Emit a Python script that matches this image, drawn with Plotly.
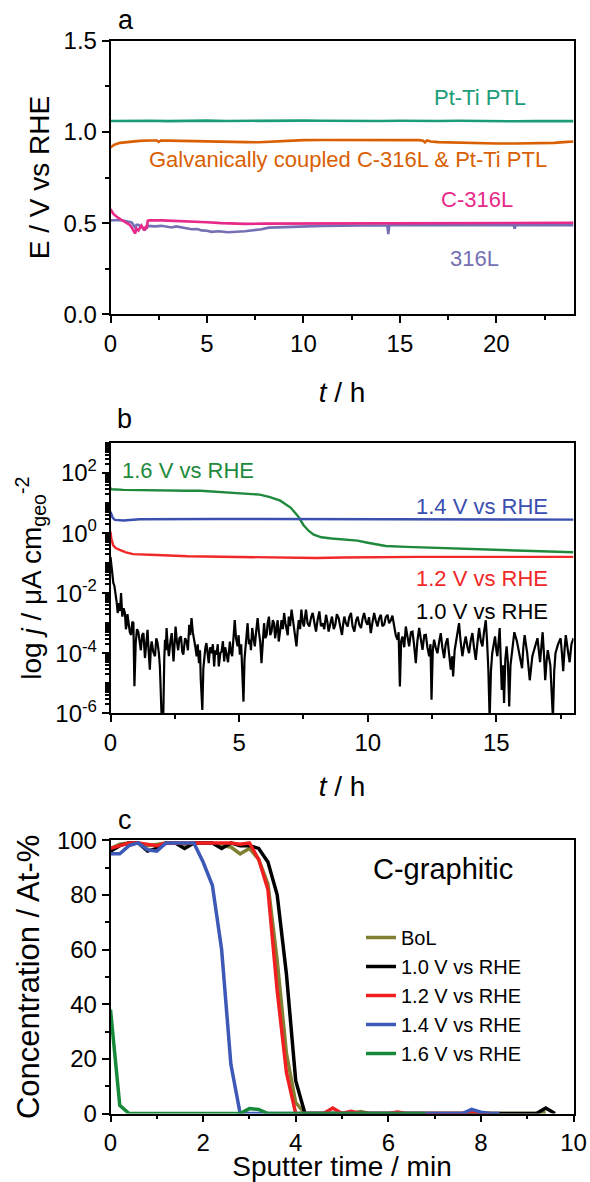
import plotly.graph_objects as go

FONT = "Liberation Sans, Arial, sans-serif"

# ---------------- Panel a : E / V vs RHE over t / h ----------------
a_pt_t = [0, 1, 2, 3, 4, 5, 6, 7, 8, 9, 10, 11, 12, 13, 14, 15, 16, 17, 18, 19, 20, 21, 22, 23, 24]
a_pt_v = [1.060, 1.062, 1.061, 1.059, 1.061, 1.062, 1.060, 1.061, 1.059, 1.060, 1.062, 1.061, 1.060,
          1.058, 1.060, 1.061, 1.059, 1.060, 1.061, 1.059, 1.060, 1.058, 1.059, 1.057, 1.059]

a_gal_t = [0, 0.2, 0.5, 1, 1.5, 2, 2.4, 2.5, 2.6, 3, 4, 5, 6, 7, 7.7, 8.5, 9, 10, 11, 12, 13, 14, 15, 16,
           16.2, 16.3, 16.4, 16.6, 17, 18, 19, 20, 21, 22, 23, 23.5, 24]
a_gal_v = [0.915, 0.930, 0.940, 0.947, 0.951, 0.953, 0.953, 0.945, 0.953, 0.952, 0.951, 0.949, 0.947,
           0.944, 0.943, 0.948, 0.952, 0.955, 0.956, 0.956, 0.957, 0.957, 0.956, 0.955, 0.952, 0.942,
           0.953, 0.947, 0.944, 0.940, 0.937, 0.936, 0.936, 0.937, 0.940, 0.944, 0.947]

a_c316_t = [0, 0.15, 0.4, 0.75, 1.0, 1.1, 1.2, 1.27, 1.35, 1.45, 1.6, 1.7, 1.75, 1.82, 1.88, 1.93, 2.0,
            2.65, 3.5, 4.4, 5.0, 5.75, 6.5, 7.0, 8, 10, 12, 14, 16, 18, 20, 22, 24]
a_c316_v = [0.577, 0.550, 0.528, 0.504, 0.490, 0.476, 0.460, 0.443, 0.470, 0.460, 0.487, 0.470, 0.460,
            0.478, 0.476, 0.513, 0.515, 0.515, 0.512, 0.509, 0.505, 0.500, 0.497, 0.496, 0.497, 0.498,
            0.499, 0.500, 0.500, 0.501, 0.501, 0.502, 0.502]

a_s316_t = [0, 0.58, 1.1, 1.2, 1.27, 1.35, 1.44, 1.6, 1.8, 1.96, 2.3, 2.65, 3.0, 3.17, 3.4, 3.7, 4.0,
            4.2, 4.5, 4.72, 5.0, 5.24, 5.6, 6.1, 6.45, 6.97, 7.4, 7.83, 8.2, 9.0, 9.56, 10.07, 11, 12,
            13, 14, 14.35, 14.4, 14.45, 15, 16, 17, 18, 19, 20, 20.9, 20.95, 21.0, 22, 23, 24]
a_s316_v = [0.516, 0.516, 0.504, 0.490, 0.476, 0.490, 0.490, 0.480, 0.466, 0.485, 0.482, 0.485, 0.478,
            0.476, 0.482, 0.474, 0.470, 0.466, 0.468, 0.460, 0.458, 0.452, 0.455, 0.450, 0.451, 0.455,
            0.461, 0.466, 0.475, 0.479, 0.481, 0.484, 0.485, 0.486, 0.487, 0.488, 0.488, 0.440, 0.488,
            0.488, 0.489, 0.489, 0.489, 0.489, 0.489, 0.489, 0.470, 0.489, 0.489, 0.489, 0.489]

# ---------------- Panel b : log j over t / h (values read as log10) ----------------
b16_t = [0, 0.05, 0.5, 1, 2, 3, 3.5, 4, 4.5, 5, 5.3, 5.8, 6.2, 6.6, 7.0, 7.3, 7.5, 7.7, 7.9, 8.2, 8.6,
         9.0, 9.6, 10.0, 10.7, 11.5, 12.5, 13.5, 14.5, 15.5, 16.5, 17.5, 18]
b16_log = [1.49, 1.46, 1.44, 1.43, 1.42, 1.41, 1.41, 1.38, 1.35, 1.33, 1.32, 1.28, 1.20, 1.08, 0.85,
           0.55, 0.27, 0.08, -0.05, -0.14, -0.18, -0.21, -0.25, -0.32, -0.43, -0.46, -0.49, -0.53,
           -0.56, -0.59, -0.61, -0.63, -0.64]

b14_t = [0, 0.03, 0.08, 0.17, 0.5, 1.14, 2, 4, 6, 8, 10, 12, 14, 16, 18]
b14_log = [0.71, 0.60, 0.52, 0.44, 0.42, 0.46, 0.47, 0.47, 0.47, 0.47, 0.47, 0.47, 0.47, 0.46, 0.45]

b12_t = [0, 0.03, 0.1, 0.2, 0.36, 0.6, 0.88, 1.3, 1.8, 3, 4.4, 6, 7, 8, 9, 10.8, 12, 14, 16, 18]
b12_log = [0.05, -0.17, -0.40, -0.50, -0.56, -0.64, -0.70, -0.72, -0.73, -0.77, -0.79, -0.81, -0.84,
           -0.83, -0.81, -0.79, -0.79, -0.79, -0.79, -0.79]

b10_t = [0, 0.05, 0.11, 0.15, 0.2, 0.24, 0.28, 0.33, 0.37, 0.41, 0.46, 0.51, 0.56, 0.6, 0.63, 0.66,
         0.69, 0.75, 0.8, 0.85, 0.89, 0.93, 0.98, 1.03, 1.08, 1.13, 1.18, 1.23, 1.28, 1.34, 1.39, 1.44,
         1.48, 1.53, 1.57, 1.6, 1.66, 1.73, 1.78, 1.83, 1.88, 1.92, 1.99, 2.05, 2.09, 2.12, 2.15, 2.18,
         2.22, 2.27, 2.33, 2.38, 2.42, 2.45, 2.49, 2.53, 2.58, 2.63, 2.68, 2.74, 2.79, 2.83, 2.9, 2.96,
         3.01, 3.06, 3.1, 3.15, 3.2, 3.26, 3.3, 3.35, 3.39, 3.44, 3.48, 3.51, 3.57, 3.61, 3.64, 3.69,
         3.73, 3.78, 3.82, 3.87, 3.93, 3.98, 4.03, 4.07, 4.12, 4.17, 4.21, 4.27, 4.32, 4.37, 4.42, 4.46,
         4.51, 4.57, 4.64, 4.68, 4.73, 4.78, 4.83, 4.88, 4.94, 4.98, 5.03, 5.08, 5.12, 5.17, 5.21, 5.25,
         5.29, 5.33, 5.38, 5.42, 5.46, 5.51, 5.56, 5.61, 5.66, 5.72, 5.77, 5.82, 5.87, 5.92, 5.97, 6.02,
         6.07, 6.11, 6.16, 6.21, 6.26, 6.31, 6.36, 6.4, 6.45, 6.5, 6.54, 6.6, 6.65, 6.7, 6.75, 6.8,
         6.84, 6.89, 6.93, 6.98, 7.04, 7.09, 7.14, 7.18, 7.23, 7.28, 7.32, 7.37, 7.42, 7.47, 7.52, 7.56,
         7.6, 7.66, 7.73, 7.8, 7.86, 7.93, 7.99, 8.05, 8.12, 8.18, 8.25, 8.31, 8.38, 8.43, 8.48, 8.55,
         8.61, 8.68, 8.74, 8.8, 8.87, 8.93, 9.0, 9.05, 9.09, 9.15, 9.22, 9.28, 9.35, 9.41, 9.48, 9.55,
         9.61, 9.67, 9.74, 9.8, 9.86, 9.93, 9.99, 10.05, 10.12, 10.18, 10.25, 10.31, 10.38, 10.44,
         10.51, 10.57, 10.64, 10.7, 10.77, 10.83, 10.9, 10.96, 11.03, 11.09, 11.16, 11.2, 11.25, 11.3,
         11.35, 11.42, 11.48, 11.55, 11.61, 11.68, 11.74, 11.8, 11.87, 11.93, 12.0, 12.06, 12.13, 12.2,
         12.26, 12.32, 12.39, 12.44, 12.48, 12.53, 12.58, 12.64, 12.71, 12.78, 12.84, 12.9, 12.97,
         13.03, 13.1, 13.16, 13.23, 13.28, 13.32, 13.38, 13.43, 13.49, 13.55, 13.61, 13.68, 13.75,
         13.81, 13.88, 13.94, 14.0, 14.07, 14.13, 14.2, 14.26, 14.33, 14.4, 14.46, 14.52, 14.59, 14.64,
         14.69, 14.74, 14.79, 14.84, 14.9, 14.95, 15.0, 15.04, 15.09, 15.13, 15.17, 15.21, 15.26, 15.3,
         15.35, 15.4, 15.45, 15.5, 15.55, 15.6, 15.7, 15.8, 15.9, 16.0, 16.05, 16.1, 16.2, 16.3, 16.4,
         16.5, 16.6, 16.7, 16.75, 16.8, 16.85, 16.9, 16.95, 17.0, 17.1, 17.2, 17.25, 17.3, 17.4, 17.5,
         17.55, 17.6, 17.65, 17.7, 17.78, 17.85, 17.92, 18.0]
b10_log = [-0.79, -1.2, -1.66, -1.75, -2.0, -2.3, -2.66, -2.33, -2.6, -2.0, -2.78, -2.5, -2.66, -3.2,
           -3.05, -2.7, -2.9, -3.3, -3.39, -2.95, -3.0, -5.1, -3.66, -3.2, -3.28, -3.7, -3.9, -3.4,
           -3.33, -4.16, -3.5, -3.22, -3.9, -4.55, -3.8, -3.61, -3.95, -4.1, -3.5, -3.66, -4.0, -4.44,
           -6.2, -6.2, -4.2, -3.55, -3.9, -3.16, -3.7, -4.1, -3.6, -3.33, -3.9, -4.27, -3.7, -3.11,
           -3.6, -3.9, -3.5, -3.44, -3.95, -4.05, -3.5, -3.61, -3.9, -3.05, -3.4, -2.83, -3.3, -3.55,
           -3.8, -4.1, -3.7, -4.33, -3.9, -4.89, -5.89, -4.5, -4.22, -3.8, -3.66, -4.0, -4.33, -3.8,
           -4.0, -3.7, -4.44, -3.9, -4.05, -3.7, -4.44, -4.0, -3.94, -3.6, -4.27, -3.8, -4.0, -4.3,
           -3.61, -3.95, -4.1, -3.5, -2.9, -3.5, -3.77, -3.4, -4.05, -3.7, -4.66, -5.61, -4.2, -3.77,
           -3.4, -3.0, -3.7, -3.55, -3.9, -3.16, -3.5, -3.77, -3.3, -2.83, -3.3, -3.61, -4.33, -3.5,
           -3.0, -3.5, -3.39, -3.0, -2.78, -3.4, -3.28, -2.9, -3.0, -3.5, -3.16, -2.9, -3.61, -3.3,
           -2.9, -3.2, -2.66, -3.0, -3.16, -3.4, -2.78, -3.1, -2.55, -2.9, -3.11, -3.4, -3.77, -3.2,
           -2.9, -3.2, -2.55, -2.95, -3.11, -2.8, -2.55, -3.0, -3.11, -2.8, -2.66, -3.0, -3.28, -2.9,
           -2.61, -3.1, -3.0, -3.2, -2.72, -2.95, -3.28, -3.0, -2.78, -3.2, -3.05, -2.7, -2.83, -3.1,
           -3.39, -3.0, -2.78, -3.0, -3.11, -2.8, -2.66, -3.1, -3.28, -2.9, -2.78, -3.05, -3.16, -2.85,
           -2.66, -2.95, -3.05, -2.8, -3.33, -3.0, -2.66, -2.9, -3.11, -2.85, -2.72, -3.1, -3.05, -2.8,
           -2.72, -3.0, -2.9, -2.75, -3.16, -3.4, -3.55, -3.3, -5.11, -3.6, -3.44, -3.8, -3.11, -3.5,
           -3.77, -3.3, -3.28, -3.7, -4.33, -3.6, -3.16, -3.5, -3.89, -3.4, -3.39, -3.8, -4.1, -3.7,
           -5.55, -3.9, -3.55, -3.8, -4.0, -3.6, -3.33, -3.8, -4.16, -3.7, -3.5, -4.0, -4.55, -4.1,
           -4.77, -3.9, -3.66, -3.3, -3.0, -3.6, -4.1, -3.7, -3.44, -3.8, -4.0, -3.6, -3.33, -3.8,
           -4.22, -3.7, -3.16, -3.6, -3.77, -3.3, -2.9, -3.6, -4.55, -6.2, -4.6, -4.0, -3.7, -3.44,
           -3.9, -4.1, -3.6, -3.16, -4.2, -5.22, -4.4, -5.66, -4.2, -3.77, -4.3, -5.77, -4.4, -4.0,
           -3.3, -3.6, -4.1, -4.5, -3.8, -3.4, -4.0, -4.9, -4.1, -3.8, -3.5, -4.3, -3.8, -3.3, -4.0,
           -4.9, -4.3, -3.9, -4.4, -6.2, -4.6, -4.0, -3.7, -3.5, -4.0, -4.6, -3.9, -3.4, -3.9, -4.3,
           -3.7, -3.5]

b_tick_vals = [1e-6, 1e-4, 1e-2, 1e0, 1e2]
b_tick_text = ["10<sup>-6</sup>", "10<sup>-4</sup>", "10<sup>-2</sup>", "10<sup>0</sup>",
               "10<sup>2</sup>"]

# ---------------- Panel c : concentration vs sputter time ----------------
c_bol_t = [0, 0.2, 0.4, 0.6, 0.8, 1.0, 1.2, 1.4, 1.6, 1.8, 2.0, 2.2, 2.4, 2.6, 2.8, 3.0, 3.2, 3.4, 3.6,
           3.8, 4.0, 4.2, 4.4, 4.6, 4.8, 5.0, 5.2, 5.4, 5.6, 5.8, 6.0, 6.2, 6.4, 6.6, 6.8, 7.0, 7.2, 7.4,
           7.6, 7.8, 8.0, 8.2, 8.4, 8.6, 8.8, 9.0, 9.2, 9.4]
c_bol_v = [97, 98.5, 99, 99, 98, 98.5, 99, 99, 98.5, 99, 99, 99, 98, 97.5, 95, 97, 93, 84, 56, 22, 4, 0,
           0, 0, 0, 0, 0, 0.7, 0, 0, 0, 0, 0, 0, 0, 0, 0, 0, 0, 0, 0, 0, 0, 0, 0, 0, 0, 0.5]

c_10_t = [0, 0.2, 0.4, 0.6, 0.8, 1.0, 1.2, 1.4, 1.6, 1.8, 2.0, 2.2, 2.4, 2.6, 2.8, 3.0, 3.2, 3.4, 3.6,
          3.8, 4.0, 4.2, 4.4, 4.6, 4.8, 5.0, 5.2, 5.4, 5.6, 5.8, 6.0, 6.2, 6.4, 6.6, 6.8, 7.0, 7.2, 7.4,
          7.6, 7.8, 8.0, 8.2, 8.4, 8.6, 8.8, 9.0, 9.2, 9.4, 9.6]
c_10_v = [96, 98, 99, 99, 96, 97, 99, 99, 97, 99, 99, 99, 97, 99, 98, 98, 97, 92, 80, 51, 12, 0, 0, 0, 0,
          0, 0, 0, 0, 0, 0, 0, 0, 0, 0, 0, 0, 0, 0, 0, 0, 0, 0, 0, 0, 0, 0, 2, 0]

c_12_t = [0, 0.2, 0.4, 0.6, 0.8, 1.0, 1.2, 1.4, 1.6, 1.8, 2.0, 2.2, 2.4, 2.6, 2.8, 3.0, 3.2, 3.4, 3.6,
          3.8, 4.0, 4.2, 4.4, 4.6, 4.8, 5.0, 5.2, 5.4, 5.6, 5.8, 6.0, 6.2, 6.4, 6.6, 6.8, 7.0, 7.2, 7.4,
          7.6, 7.8, 8.0, 8.2]
c_12_v = [97, 98, 99, 99, 98.5, 98, 99, 99, 99, 99, 99, 99, 99, 99, 98.5, 99, 93, 82, 45, 15, 0, 0, 0, 0,
          2, 0, 0.8, 0, 0, 0, 0, 0.5, 0, 0, 0, 0, 0, 0, 0, 0.8, 0, 0]

c_14_t = [0, 0.2, 0.4, 0.6, 0.8, 1.0, 1.2, 1.4, 1.6, 1.8, 2.0, 2.2, 2.4, 2.6, 2.8, 3.0, 3.2, 3.4, 3.6,
          3.8, 4.0, 4.2, 4.4, 4.6, 4.8, 5.0, 5.2, 5.4, 5.6, 5.8, 6.0, 6.2, 6.4, 6.6, 6.8, 7.0, 7.2, 7.4,
          7.6, 7.8, 8.0, 8.2, 8.4]
c_14_v = [95, 95, 98, 99, 96.5, 96, 99, 99, 99, 99, 92, 83.5, 60, 18, 0, 0, 0, 0, 0, 0, 0, 0, 0, 0, 0,
          0, 0, 0, 0, 0, 0, 0, 0, 0, 0, 0, 0, 0, 0, 1.5, 0.5, 0, 0]

c_16_t = [0, 0.2, 0.4, 0.6, 0.8, 1.0, 1.2, 1.4, 1.6, 1.8, 2.0, 2.2, 2.4, 2.6, 2.8, 3.0, 3.2, 3.4, 3.6,
          3.8, 4.0, 4.2, 4.4, 4.6, 4.8, 5.0, 5.2, 5.4, 5.6, 5.8, 6.0, 6.2, 6.4, 6.6, 6.8]
c_16_v = [38, 3, 0, 0, 0, 0, 0, 0, 0, 0, 0, 0, 0, 0, 0, 1.8, 1.5, 0, 0, 0, 0, 0, 0, 0, 0, 0, 0, 0, 0, 0,
          0, 0, 0, 0, 0]

# ---------------- figure ----------------
W, H = 590, 1182
def px(x):
    return x / W
def py(y):
    return 1 - y / H

XDOM = [px(110.5), px(573.5)]
fig = go.Figure()

def line(x, y, color, width, xa, ya, name=None, legend=False):
    fig.add_trace(go.Scatter(x=x, y=y, mode="lines", line=dict(color=color, width=width),
                             xaxis=xa, yaxis=ya, name=name, showlegend=legend, hoverinfo="skip"))

# panel a
line(a_pt_t, a_pt_v, "#1b9e77", 2.6, "x", "y")
line(a_gal_t, a_gal_v, "#d95f02", 2.6, "x", "y")
line(a_s316_t, a_s316_v, "#7570b3", 2.6, "x", "y")
line(a_c316_t, a_c316_v, "#e7298a", 2.6, "x", "y")

# panel b
line(b16_t, [10 ** v for v in b16_log], "#1f8a3c", 2.4, "x2", "y2")
line(b14_t, [10 ** v for v in b14_log], "#3a4fb0", 2.4, "x2", "y2")
line(b12_t, [10 ** v for v in b12_log], "#f02828", 2.4, "x2", "y2")
line(b10_t, [10 ** v for v in b10_log], "#000000", 2.2, "x2", "y2")

# panel c
line(c_bol_t, c_bol_v, "#808033", 3.5, "x3", "y3", "BoL", True)
line(c_10_t, c_10_v, "#000000", 3.5, "x3", "y3", "1.0 V vs RHE", True)
line(c_12_t, c_12_v, "#f02020", 3.5, "x3", "y3", "1.2 V vs RHE", True)
line(c_14_t, c_14_v, "#3d59b8", 3.5, "x3", "y3", "1.4 V vs RHE", True)
line(c_16_t, c_16_v, "#178a3a", 3.5, "x3", "y3", "1.6 V vs RHE", True)

base = dict(showline=True, linecolor="black", linewidth=1.5, mirror=True, ticks="outside",
            ticklen=7, tickwidth=1.5, tickcolor="black", showgrid=False, zeroline=False,
            automargin=False, tickfont=dict(family=FONT, size=24, color="black"))

def minor(d=None, vals=None, length=4):
    m = dict(ticks="outside", ticklen=length, tickwidth=1.5, tickcolor="black", showgrid=False)
    if d is not None:
        m["dtick"] = d
    if vals is not None:
        m["tickvals"] = vals
    return m

log_minor = [k * 10 ** d for d in range(-6, 3) for k in range(2, 11)]

fig.update_layout(
    width=W, height=H, margin=dict(l=0, r=0, t=0, b=0), template="none",
    paper_bgcolor="white", plot_bgcolor="white", font=dict(family=FONT, color="black"),
    xaxis=dict(base, domain=XDOM, anchor="y", range=[0, 24], tickvals=[0, 5, 10, 15, 20],
               minor=minor(2.5),
               title=dict(text="<i>t</i> / h", font=dict(size=28), standoff=27)),
    yaxis=dict(base, domain=[py(314.3), py(40.7)], anchor="x", range=[0, 1.5], dtick=0.5,
               tickformat=".1f", minor=minor(0.25),
               title=dict(text="E / V vs RHE", font=dict(size=28), standoff=6)),
    xaxis2=dict(base, domain=XDOM, anchor="y2", range=[0, 18], tickvals=[0, 5, 10, 15],
                minor=minor(2.5),
                title=dict(text="<i>t</i> / h", font=dict(size=28), standoff=22)),
    yaxis2=dict(base, domain=[py(713.3), py(443)], anchor="x2", type="log", range=[-6, 3],
                tickmode="array", tickvals=b_tick_vals, ticktext=b_tick_text,
                minor=minor(vals=log_minor),
                title=dict(text="log <i>j</i> / μA cm<sub>geo</sub><sup>-2</sup>",
                           font=dict(size=28), standoff=6)),
    xaxis3=dict(base, domain=XDOM, anchor="y3", range=[0, 10], dtick=2, minor=minor(1),
                title=dict(text="Sputter time / min", font=dict(size=28), standoff=12)),
    yaxis3=dict(base, domain=[py(1113.5), py(840.2)], anchor="x3", range=[0, 100], dtick=20,
                minor=minor(10),
                title=dict(text="Concentration / At-%", font=dict(size=31), standoff=8)),
    legend=dict(x=px(361), y=py(918), xanchor="left", yanchor="top", bgcolor="rgba(0,0,0,0)",
                font=dict(family=FONT, size=20, color="black"), traceorder="normal",
                tracegroupgap=0),
    showlegend=True,
)

ann = [
    dict(text="Pt-Ti PTL", x=16.65, y=1.186, xref="x", yref="y", color="#1b9e77", size=22),
    dict(text="Galvanically coupled C-316L &amp; Pt-Ti PTL", x=1.89, y=0.851, xref="x", yref="y",
         color="#d95f02", size=22),
    dict(text="C-316L", x=17.04, y=0.629, xref="x", yref="y", color="#e7298a", size=22),
    dict(text="316L", x=17.47, y=0.308, xref="x", yref="y", color="#7570b3", size=22),
    dict(text="1.6 V vs RHE", x=0.36, y=2.07, xref="x2", yref="y2", color="#1f8a3c", size=22),
    dict(text="1.4 V vs RHE", x=11.79, y=0.88, xref="x2", yref="y2", color="#3a4fb0", size=22),
    dict(text="1.2 V vs RHE", x=11.79, y=-1.50, xref="x2", yref="y2", color="#f02828", size=22),
    dict(text="1.0 V vs RHE", x=11.79, y=-2.62, xref="x2", yref="y2", color="#000000", size=22),
    dict(text="C-graphitic", x=5.62, y=89.4, xref="x3", yref="y3", color="#000000", size=29),
]
for a in ann:
    fig.add_annotation(text=a["text"], x=a["x"], y=a["y"], xref=a["xref"], yref=a["yref"],
                       xanchor="left", yanchor="middle", showarrow=False,
                       font=dict(family=FONT, size=a["size"], color=a["color"]))

for lbl, xx, yy in [("a", 116, 20), ("b", 115, 419), ("c", 116, 820)]:
    fig.add_annotation(text=lbl, x=px(xx), y=py(yy), xref="paper", yref="paper", xanchor="left",
                       yanchor="middle", showarrow=False,
                       font=dict(family=FONT, size=27, color="black"))

fig.write_html("out.html", config={"displayModeBar": False},
               post_script="document.body.style.margin='0';document.body.style.overflow='hidden';")
